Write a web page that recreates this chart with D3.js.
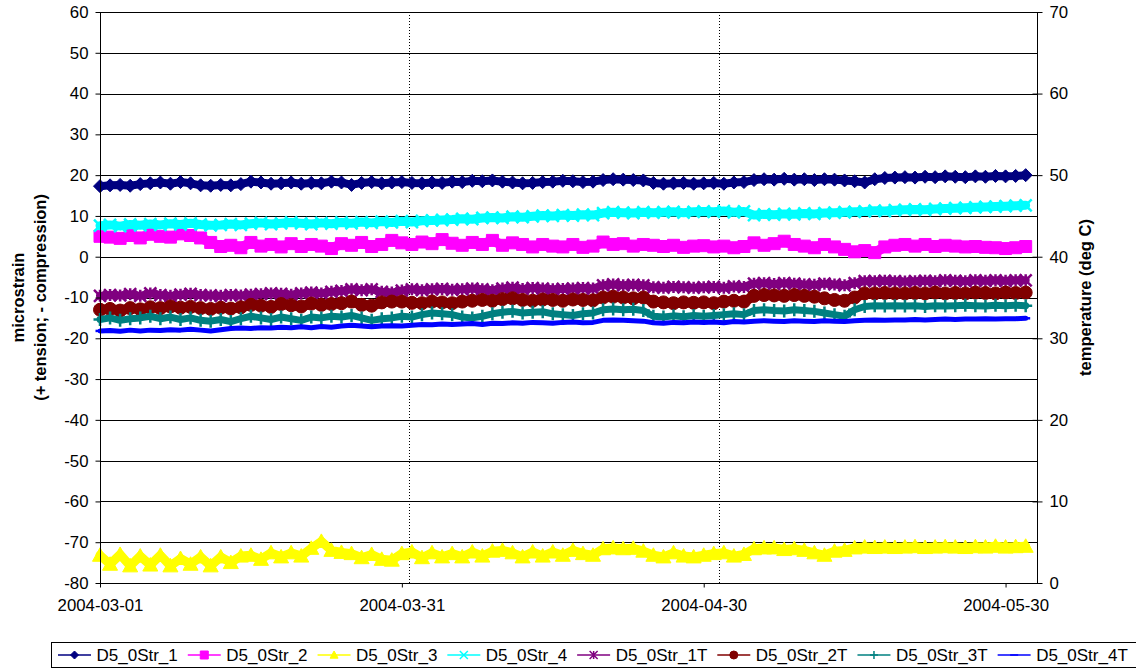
<!DOCTYPE html>
<html><head><meta charset="utf-8">
<script src="https://cdn.jsdelivr.net/npm/d3@7/dist/d3.min.js"></script>
<style>
body{margin:0;background:#fff;}
svg text{font-family:"Liberation Sans",Arial,sans-serif;fill:#000;}
</style></head><body>
<svg id="chart" width="1136" height="670"></svg>
<script>
// ---- data: one reading per day, starting 2004-03-01 ----
const startDate = "2004-03-01";
const axisEnd = "2004-06-02T03:00";
const dateTicks = ["2004-03-01", "2004-03-31", "2004-04-30", "2004-05-30"];
const markerDates = ["2004-03-31T16:00", "2004-05-01T13:00"];
const strainTicks = [-80, -70, -60, -50, -40, -30, -20, -10, 0, 10, 20, 30, 40, 50, 60];
const tempTicks = [0, 10, 20, 30, 40, 50, 60, 70];

// microstrain (left axis)
const str1 = [17.3,17.5,17.6,17.4,17.8, 18.0,18.2,17.9,18.3,18.0, 17.5,17.4,17.6,17.5,17.8, 18.4,18.2,17.9,18.0,18.2,
  17.9,18.1,18.0,18.4,18.2, 17.6,18.1,18.3,18.0,18.2, 18.3,18.1,18.0,18.2,18.1, 18.4,18.3,18.6,18.5,18.7,
  18.4,18.2,18.0,18.1,18.3, 18.4,18.6,18.5,18.3,18.4, 18.8,19.0,18.9,18.8,18.7, 18.1,17.9,18.0,18.1,17.9,
  18.0,18.1,17.9,18.2,18.3, 18.8,19.0,18.9,19.1,18.9, 19.0,18.8,19.0,18.9,18.7, 18.5,18.2,19.0,19.3,19.4,
  19.5,19.4,19.6,19.5,19.7, 19.6,19.5,19.7,19.6,19.8, 19.7,19.8,20.0];
const str2 = [5.0,4.8,4.5,5.2,4.6, 5.5,5.0,4.8,5.6,5.2, 4.6,3.5,2.5,2.8,2.2, 3.5,2.6,3.0,2.4,3.2,
  2.5,3.0,2.6,2.0,3.2, 2.8,3.5,2.5,3.0,4.0, 3.4,3.0,3.6,3.2,4.2, 3.3,2.8,3.5,3.0,4.0,
  2.8,3.4,3.0,2.4,3.0, 2.6,2.4,3.0,2.3,2.6, 3.6,3.0,3.2,2.6,3.0, 2.8,2.5,2.8,2.3,2.6,
  2.7,2.4,2.6,2.2,2.5, 3.4,2.8,3.2,3.8,3.0, 2.6,2.2,3.0,2.4,1.8, 1.2,1.5,1.0,2.4,2.8,
  3.0,2.6,3.0,2.5,2.8, 2.6,2.4,2.5,2.3,2.2, 2.0,2.2,2.5];
const str3 = [-73.2,-75.4,-73.0,-75.8,-73.4, -75.6,-73.2,-75.8,-74.0,-75.4, -73.6,-75.8,-73.6,-75.0,-73.4, -73.2,-74.2,-72.6,-73.6,-72.6,
  -73.4,-71.5,-69.8,-72.0,-72.5, -72.8,-73.8,-73.0,-74.2,-74.4, -72.8,-72.4,-73.8,-72.6,-73.6, -72.8,-73.6,-72.4,-73.4,-72.2,
  -72.0,-72.6,-73.6,-72.4,-73.4, -72.4,-73.2,-72.0,-72.8,-73.2, -71.6,-71.4,-71.6,-71.5,-72.2, -73.2,-73.6,-72.6,-73.4,-73.6,
  -73.2,-72.8,-72.6,-73.4,-73.0, -71.6,-71.4,-71.4,-71.8,-71.6, -72.0,-72.6,-73.2,-72.2,-72.0, -71.4,-71.2,-71.3,-71.2,-71.3,
  -71.2,-71.1,-71.3,-71.2,-71.1, -71.2,-71.3,-71.1,-71.2,-71.0, -71.2,-71.1,-71.0];
const str4 = [7.6,7.8,7.5,7.9,7.7, 8.0,7.8,8.1,7.9,8.2, 7.9,7.7,7.8,8.0,7.8, 8.1,8.3,8.0,8.2,8.4,
  8.2,8.0,8.3,8.1,8.4, 8.2,8.5,8.3,8.6,8.4, 8.7,8.5,8.8,8.9,9.0, 9.1,9.3,9.2,9.5,9.6,
  9.5,9.8,9.7,9.9,10.1, 10.0,10.2,10.1,10.3,10.2, 10.7,10.9,10.8,10.7,10.9, 10.8,10.9,11.0,10.8,11.0,
  11.1,11.0,11.2,10.9,11.1, 10.2,10.4,10.3,10.5,10.4, 10.6,10.5,10.7,10.8,10.9, 11.0,11.1,11.3,11.2,11.4,
  11.5,11.6,11.5,11.7,11.8, 11.9,12.0,12.1,12.2,12.3, 12.4,12.5,12.6];

// temperature, deg C (right axis)
const str1T = [35.2,35.3,35.25,35.4,35.2, 35.5,35.3,35.2,35.35,35.45, 35.3,35.25,35.2,35.3,35.25, 35.35,35.4,35.5,35.45,35.35,
  35.5,35.6,35.5,35.7,35.8, 36.0,35.9,36.0,35.7,35.6, 35.85,36.0,35.9,36.0,36.05, 35.95,36.0,36.1,36.0,35.9,
  36.1,36.2,36.05,36.15,36.1, 36.0,36.05,36.1,36.15,36.1, 36.5,36.6,36.5,36.55,36.5, 36.25,36.2,36.3,36.25,36.2,
  36.25,36.3,36.2,36.35,36.3, 36.7,36.75,36.65,36.75,36.7, 36.6,36.55,36.7,36.6,36.5, 36.75,37.0,37.0,37.05,37.0,
  36.95,37.0,37.05,37.0,37.1, 37.05,37.0,37.1,37.05,37.1, 37.05,37.1,37.1];
const str2T = [33.5,33.6,33.4,33.7,33.55, 33.8,33.7,33.9,33.75,33.85, 33.7,33.6,33.75,33.65,33.8, 34.1,34.0,33.85,34.2,34.05,
  33.9,34.25,34.1,34.2,34.3, 34.5,34.1,34.0,34.4,34.5, 34.5,34.35,34.3,34.5,34.4, 34.3,34.5,34.6,34.7,34.6,
  34.8,34.9,34.7,34.6,34.75, 34.7,34.6,34.75,34.7,34.65, 35.0,35.1,35.0,34.9,35.0, 34.5,34.4,34.3,34.4,34.35,
  34.4,34.3,34.5,34.6,34.5, 35.2,35.3,35.25,35.2,35.3, 35.2,35.1,34.9,34.7,34.6, 35.0,35.5,35.5,35.55,35.5,
  35.5,35.55,35.5,35.6,35.5, 35.55,35.5,35.6,35.55,35.5, 35.6,35.55,35.6];
const str3T = [32.3,32.5,32.2,32.4,32.5, 32.7,32.4,32.6,32.3,32.5, 32.2,32.1,32.3,32.05,32.4, 32.7,32.5,32.3,32.6,32.4,
  32.2,32.6,32.5,32.7,32.6, 32.8,32.5,32.2,32.4,32.5, 32.7,32.6,32.9,33.1,33.0, 32.9,32.6,32.5,32.7,33.0,
  33.2,33.3,33.1,33.2,33.25, 33.0,32.9,32.8,33.0,33.1, 33.5,33.6,33.5,33.55,33.4, 32.7,32.6,32.75,32.65,32.8,
  32.7,32.8,32.9,33.0,32.9, 33.4,33.5,33.4,33.35,33.5, 33.4,33.3,33.1,32.9,32.7, 33.5,33.9,34.0,33.95,34.0,
  33.95,34.0,33.9,34.0,33.95, 34.0,34.05,34.0,33.95,34.05, 34.0,34.05,34.0];
const str4T = [30.9,30.95,30.85,31.0,30.9, 31.0,30.95,31.05,31.0,31.1, 31.0,30.9,31.05,31.2,31.25, 31.2,31.3,31.25,31.35,31.3,
  31.4,31.3,31.45,31.35,31.5, 31.6,31.5,31.4,31.5,31.55, 31.5,31.6,31.7,31.65,31.75, 31.7,31.75,31.8,31.7,31.85,
  31.8,31.9,31.85,31.95,31.9, 31.85,31.95,32.0,31.9,31.95, 32.2,32.25,32.2,32.15,32.1, 31.9,31.85,31.95,31.9,32.0,
  31.95,32.0,31.9,32.05,32.0, 32.1,32.15,32.1,32.05,32.15, 32.1,32.05,32.15,32.1,32.05, 32.15,32.2,32.25,32.2,32.25,
  32.25,32.3,32.25,32.3,32.35, 32.3,32.35,32.35,32.4,32.35, 32.4,32.4,32.45];

const seriesNames = ["D5_0Str_1","D5_0Str_2","D5_0Str_3","D5_0Str_4","D5_0Str_1T","D5_0Str_2T","D5_0Str_3T","D5_0Str_4T"];
const seriesValues = [str1, str2, str3, str4, str1T, str2T, str3T, str4T];
const seriesAxis = ["left","left","left","left","right","right","right","right"];
const seriesColors = ["#000080","#FF00FF","#FFFF00","#00FFFF","#800080","#800000","#008080","#0000FF"];
const seriesMarkers = ["diamond","square","triangle","x","star","circle","plus","dash"];

// ---- layout ----
const svg = d3.select("#chart");
const plot = {left: 100, right: 1037, top: 12, bottom: 583};
const parse = d3.isoParse;
const start = parse(startDate);

const x = d3.scaleTime().domain([start, parse(axisEnd)]).range([plot.left, plot.right]);
const yL = d3.scaleLinear().domain([-80, 60]).range([plot.bottom, plot.top]);
const yR = d3.scaleLinear().domain([0, 70]).range([plot.bottom, plot.top]);

const fs = 16.8;
const fmt = d => String(d);

// horizontal gridlines
svg.append("g").selectAll("line").data(strainTicks).join("line")
  .attr("x1", plot.left).attr("x2", plot.right)
  .attr("y1", d => Math.round(yL(d)) + 0.5).attr("y2", d => Math.round(yL(d)) + 0.5)
  .attr("stroke", "#000").attr("stroke-width", 1);

// dotted vertical lines
svg.append("g").selectAll("line").data(markerDates).join("line")
  .attr("x1", d => Math.round(x(parse(d))) + 0.5).attr("x2", d => Math.round(x(parse(d))) + 0.5)
  .attr("y1", plot.top).attr("y2", plot.bottom)
  .attr("stroke", "#000").attr("stroke-width", 1).attr("stroke-dasharray", "1,2");

// marker shapes
function markerPath(type, r) {
  switch (type) {
    case "diamond": return `M0,${-r}L${r},0L0,${r}L${-r},0Z`;
    case "square": return `M${-r},${-r}H${r}V${r}H${-r}Z`;
    case "triangle": return `M0,${-r}L${r},${r*0.8}L${-r},${r*0.8}Z`;
    case "circle": return d3.symbol(d3.symbolCircle, Math.PI * r * r)();
    case "x": return `M${-r},${-r}L${r},${r}M${-r},${r}L${r},${-r}`;
    case "star": return `M${-r},${-r}L${r},${r}M${-r},${r}L${r},${-r}M0,${-r}V${r}`;
    case "plus": return `M${-r},0H${r}M0,${-r}V${r}`;
    case "dash": return `M${-r},0H${r}`;
  }
}
const filledMarkers = new Set(["diamond","square","triangle","circle"]);
const markerSize = {diamond: 6.5, square: 6, triangle: 7.5, circle: 6.5, x: 6, star: 6, plus: 6.5, dash: 4.5};
const lineWidth = [8, 10, 9, 9, 8, 10, 7, 5];

const dayIndex = i => d3.timeDay.offset(start, i);

// series
seriesValues.forEach((vals, si) => {
  const y = seriesAxis[si] === "left" ? yL : yR;
  const pts = vals.map((v, i) => [x(dayIndex(i)), y(v)]);
  const g = svg.append("g");
  g.append("path").attr("d", d3.line()(pts))
    .attr("fill", "none").attr("stroke", seriesColors[si]).attr("stroke-width", lineWidth[si])
    .attr("stroke-linejoin", "round").attr("stroke-linecap", "round");
  const type = seriesMarkers[si];
  const filled = filledMarkers.has(type);
  g.selectAll("path.m").data(pts).join("path").attr("class", "m")
    .attr("transform", d => `translate(${d[0]},${d[1]})`)
    .attr("d", markerPath(type, markerSize[type]))
    .attr("fill", filled ? seriesColors[si] : "none")
    .attr("stroke", seriesColors[si])
    .attr("stroke-width", filled ? 1 : 2.5);
});

// axes
const axL = svg.append("g").attr("transform", `translate(${plot.left + 0.5},0)`)
  .call(d3.axisLeft(yL).tickValues(strainTicks).tickSize(5).tickPadding(7).tickFormat(fmt));
const axR = svg.append("g").attr("transform", `translate(${plot.right + 0.5},0)`)
  .call(d3.axisRight(yR).tickValues(tempTicks).tickSize(5).tickPadding(7).tickFormat(fmt));
axR.selectAll(".tick line").attr("x1", -5);
const axB = svg.append("g").attr("transform", `translate(0,${plot.bottom + 0.5})`)
  .call(d3.axisBottom(x).tickValues(dateTicks.map(parse)).tickSize(4).tickPadding(12)
    .tickFormat(d3.timeFormat("%Y-%m-%d")));
[axL, axR, axB].forEach(a => {
  a.select(".domain").attr("stroke", "#000").attr("stroke-width", 1);
  a.selectAll(".tick line").attr("stroke", "#000");
  a.selectAll("text").attr("font-size", fs).attr("font-family", "'Liberation Sans', Arial, sans-serif").attr("fill", "#000");
});
axB.select(".domain").attr("d", `M${plot.left},0H${plot.right}`);
axL.select(".domain").attr("d", `M0,${plot.top}V${plot.bottom}`);
axR.select(".domain").attr("d", `M0,${plot.top}V${plot.bottom}`);

// axis titles
const midY = (plot.top + plot.bottom) / 2;
const lt = svg.append("text").attr("transform", `translate(24,${midY}) rotate(-90)`)
  .attr("text-anchor", "middle").attr("font-weight", "bold").attr("font-size", 16.5);
lt.append("tspan").attr("x", 0).attr("dy", 0).text("microstrain");
lt.append("tspan").attr("x", 0).attr("dy", 22).text("(+ tension;  - compression)");
svg.append("text").attr("transform", `translate(1091,${midY}) rotate(-90)`)
  .attr("text-anchor", "middle").attr("font-weight", "bold").attr("font-size", 16.5)
  .text("temperature (deg C)");

// legend
const leg = svg.append("g");
const legBox = leg.append("rect").attr("x", 51.5).attr("y", 642.5).attr("height", 25)
  .attr("fill", "#fff").attr("stroke", "#000");
let lx = 58;
const ly = 655;
seriesNames.forEach((name, si) => {
  leg.append("line").attr("x1", lx).attr("x2", lx + 33).attr("y1", ly).attr("y2", ly)
    .attr("stroke", seriesColors[si]).attr("stroke-width", 1.5);
  const type = seriesMarkers[si];
  const filled = filledMarkers.has(type);
  leg.append("path").attr("transform", `translate(${lx + 16.5},${ly})`)
    .attr("d", markerPath(type, 4))
    .attr("fill", filled ? seriesColors[si] : "none").attr("stroke", seriesColors[si])
    .attr("stroke-width", filled ? 1 : 1.5);
  const t = leg.append("text").attr("x", lx + 38.5).attr("y", ly + 6)
    .attr("font-size", 17).text(name);
  lx = lx + 38.5 + t.node().getComputedTextLength() + 10;
});
legBox.attr("width", lx - 51);
</script>
</body></html>
